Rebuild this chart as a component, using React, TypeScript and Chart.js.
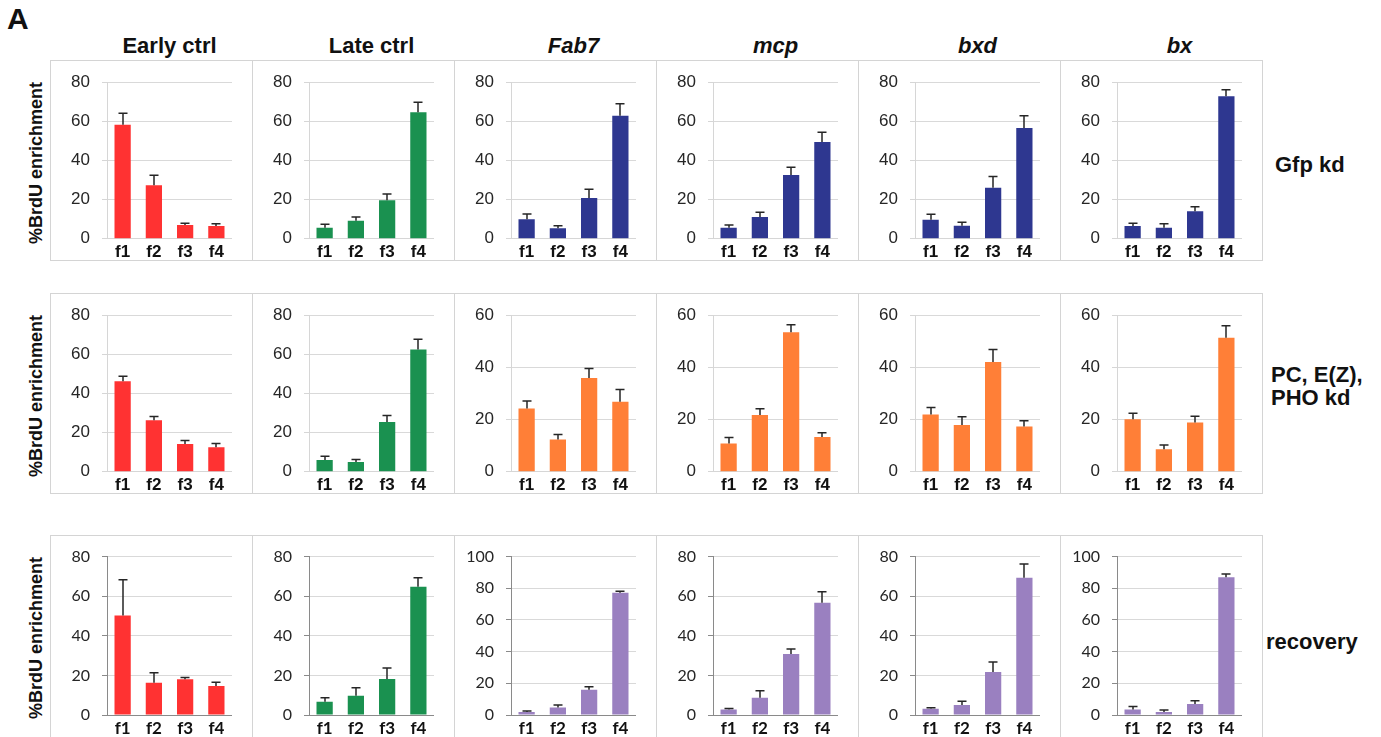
import React, { useEffect, useRef } from "react";
import { Chart, registerables } from "chart.js";

Chart.register(...registerables);

// ---- labels ----
const categories = ["f1", "f2", "f3", "f4"];
const conditions = ["Early ctrl", "Late ctrl", "Fab7", "mcp", "bxd", "bx"];
const italicTitles = [false, false, true, true, true, true];
const treatmentLabels = [["Gfp kd"], ["PC, E(Z),", "PHO kd"], ["recovery"]];
const yTitle = "%BrdU enrichment";
const panelLetter = "A";

// ---- Gfp kd: mean %BrdU enrichment and error (upper bar) ----
const gfpEarly = [58.2, 27.3, 7.0, 6.5];
const gfpEarlyErr = [5.9, 5.2, 1.0, 1.2];
const gfpLate = [5.7, 9.2, 19.7, 64.6];
const gfpLateErr = [1.7, 2.0, 3.2, 5.2];
const gfpFab7 = [10.0, 5.4, 20.9, 62.8];
const gfpFab7Err = [2.7, 1.3, 4.4, 6.2];
const gfpMcp = [5.7, 11.2, 32.6, 49.5];
const gfpMcpErr = [1.3, 2.4, 3.9, 4.9];
const gfpBxd = [9.7, 6.7, 26.1, 56.6];
const gfpBxdErr = [2.9, 1.7, 5.7, 6.3];
const gfpBx = [6.5, 5.7, 14.1, 72.8];
const gfpBxErr = [1.4, 2.0, 2.3, 3.4];
const gfpAxisMax = [80, 80, 80, 80, 80, 80];

// ---- PC, E(Z), PHO kd ----
const pcEarly = [46.3, 26.3, 14.2, 12.5];
const pcEarlyErr = [2.5, 2.0, 1.8, 2.0];
const pcLate = [6.0, 5.0, 25.5, 62.5];
const pcLateErr = [2.0, 1.3, 3.2, 5.2];
const pcFab7 = [24.3, 12.4, 35.9, 26.8];
const pcFab7Err = [2.8, 1.9, 3.7, 4.7];
const pcMcp = [10.8, 21.8, 53.5, 13.3];
const pcMcpErr = [2.3, 2.4, 2.8, 1.7];
const pcBxd = [22.0, 17.9, 42.1, 17.4];
const pcBxdErr = [2.6, 3.2, 4.8, 2.2];
const pcBx = [20.1, 8.6, 18.9, 51.4];
const pcBxErr = [2.3, 1.7, 2.4, 4.6];
const pcAxisMax = [80, 80, 60, 60, 60, 60];

// ---- recovery ----
const recEarly = [50.3, 16.3, 18.0, 14.7];
const recEarlyErr = [18.0, 5.0, 1.0, 1.8];
const recLate = [6.7, 9.7, 18.2, 64.8];
const recLateErr = [2.0, 4.1, 5.5, 4.5];
const recFab7 = [1.9, 4.8, 16.0, 77.1];
const recFab7Err = [0.6, 1.5, 1.9, 1.0];
const recMcp = [2.8, 8.7, 30.8, 56.7];
const recMcpErr = [0.5, 3.6, 2.5, 5.5];
const recBxd = [3.2, 5.0, 21.7, 69.3];
const recBxdErr = [0.5, 2.0, 5.1, 6.9];
const recBx = [3.5, 1.9, 6.9, 86.9];
const recBxErr = [1.9, 1.2, 2.1, 2.1];
const recAxisMax = [80, 80, 100, 80, 80, 100];

// ---- colours ----
const earlyColor = "#ff3232";
const lateColor = "#1a9150";
const rowColors = ["#2e3790", "#ff7f37", "#9a80c0"];

const ARIAL = "'Liberation Sans', Arial, Helvetica, sans-serif";
const CALIBRI_LIKE = "Lato, 'Open Sans', sans-serif";

type RowDef = {
  values: number[][];
  errors: number[][];
  max: number[];
  color: string;
  family: string;
  axisColor: string;
  top: number;
  height: number;
};

const rows: RowDef[] = [
  {
    values: [gfpEarly, gfpLate, gfpFab7, gfpMcp, gfpBxd, gfpBx],
    errors: [gfpEarlyErr, gfpLateErr, gfpFab7Err, gfpMcpErr, gfpBxdErr, gfpBxErr],
    max: gfpAxisMax,
    color: rowColors[0],
    family: ARIAL,
    axisColor: "#d6d6d6",
    top: 60,
    height: 201,
  },
  {
    values: [pcEarly, pcLate, pcFab7, pcMcp, pcBxd, pcBx],
    errors: [pcEarlyErr, pcLateErr, pcFab7Err, pcMcpErr, pcBxdErr, pcBxErr],
    max: pcAxisMax,
    color: rowColors[1],
    family: ARIAL,
    axisColor: "#d6d6d6",
    top: 293,
    height: 201,
  },
  {
    values: [recEarly, recLate, recFab7, recMcp, recBxd, recBx],
    errors: [recEarlyErr, recLateErr, recFab7Err, recMcpErr, recBxdErr, recBxErr],
    max: recAxisMax,
    color: rowColors[2],
    family: CALIBRI_LIKE,
    axisColor: "#8a8a8a",
    top: 535,
    height: 210,
  },
];

const colLefts = [0, 1, 2, 3, 4, 5].map((i) => Math.round(50 + i * 201.9));
const BOX_W = 203;
const PLOT_LEFT = 57;
const PLOT_RIGHT_PAD = 21;
const PLOT_TOP = 20;
const PLOT_BOTTOM = 180;

// Draws the upper error bar (line + cap) on every bar from the dataset's `errors` field
const errorBarPlugin = {
  id: "errorBars",
  afterDatasetsDraw(chart: any) {
    const { ctx } = chart;
    const yScale = chart.scales.y;
    const ds = chart.data.datasets[0];
    const meta = chart.getDatasetMeta(0);
    const errs: number[] = ds.errors || [];
    ctx.save();
    ctx.strokeStyle = "#262626";
    ctx.lineWidth = 1.5;
    meta.data.forEach((bar: any, i: number) => {
      const v = ds.data[i] as number;
      const yTop = yScale.getPixelForValue(v + (errs[i] || 0));
      const x = Math.round(bar.x);
      ctx.beginPath();
      ctx.moveTo(x, bar.y);
      ctx.lineTo(x, yTop);
      ctx.moveTo(x - 4.5, yTop);
      ctx.lineTo(x + 4.5, yTop);
      ctx.stroke();
    });
    ctx.restore();
  },
};

type PanelProps = {
  left: number;
  top: number;
  width: number;
  height: number;
  values: number[];
  errors: number[];
  max: number;
  color: string;
  family: string;
  axisColor: string;
};

function Panel({ left, top, width, height, values, errors, max, color, family, axisColor }: PanelProps) {
  const ref = useRef<HTMLCanvasElement>(null);

  useEffect(() => {
    const chart = new Chart(ref.current as HTMLCanvasElement, {
      type: "bar",
      data: {
        labels: categories,
        datasets: [
          {
            data: values,
            errors,
            backgroundColor: color,
            borderWidth: 0,
            barPercentage: 0.52,
            categoryPercentage: 1,
          } as any,
        ],
      },
      options: {
        responsive: false,
        animation: false,
        devicePixelRatio: 1,
        layout: { padding: { top: PLOT_TOP, right: PLOT_RIGHT_PAD, left: 0, bottom: 0 } },
        plugins: { legend: { display: false }, tooltip: { enabled: false } },
        scales: {
          x: {
            grid: { display: false, drawTicks: false },
            border: { display: false },
            ticks: {
              font: { family, size: 17, weight: "bold" },
              color: "#111",
              padding: 3,
              maxRotation: 0,
              autoSkip: false,
            },
            afterFit: (s: any) => {
              s.height = height - PLOT_BOTTOM;
            },
          },
          y: {
            min: 0,
            max,
            ticks: {
              stepSize: 20,
              font: { family, size: family === ARIAL ? 17 : 16 },
              color: "#262626",
              padding: 12,
            },
            grid: {
              color: (c: any) => (c.tick && c.tick.value === 0 ? axisColor : "#d9d9d9"),
              lineWidth: 1,
              tickLength: 5,
              tickColor: axisColor,
            },
            border: { color: axisColor, width: 1 },
            afterFit: (s: any) => {
              s.width = PLOT_LEFT;
            },
          },
        },
      } as any,
      plugins: [errorBarPlugin],
    });
    return () => chart.destroy();
  }, [values, errors, max, color, family, axisColor, height]);

  return (
    <div
      style={{
        position: "absolute",
        left,
        top,
        width,
        height,
        boxSizing: "border-box",
        border: "1px solid #d4d4d4",
      }}
    >
      <canvas
        ref={ref}
        width={width}
        height={height}
        style={{ position: "absolute", left: -1, top: -1, width, height }}
      />
    </div>
  );
}

export default function App() {
  return (
    <div
      style={{
        position: "absolute",
        left: 0,
        top: 0,
        width: 1381,
        height: 737,
        overflow: "hidden",
        background: "#fff",
        fontFamily: ARIAL,
        color: "#111",
      }}
    >
      <div
        style={{
          position: "absolute",
          left: 7,
          top: 2,
          fontSize: 30,
          lineHeight: "34px",
          fontWeight: "bold",
        }}
      >
        {panelLetter}
      </div>

      {conditions.map((name, i) => (
        <div
          key={name}
          style={{
            position: "absolute",
            left: colLefts[i] + PLOT_LEFT + (BOX_W - PLOT_LEFT - PLOT_RIGHT_PAD) / 2 - 100,
            width: 200,
            top: 34,
            textAlign: "center",
            fontSize: 22,
            lineHeight: "24px",
            fontWeight: "bold",
            fontStyle: italicTitles[i] ? "italic" : "normal",
          }}
        >
          {name}
        </div>
      ))}

      {rows.map((row, r) =>
        conditions.map((name, c) => (
          <Panel
            key={`${r}-${name}`}
            left={colLefts[c]}
            top={row.top}
            width={BOX_W}
            height={row.height}
            values={row.values[c]}
            errors={row.errors[c]}
            max={row.max[c]}
            color={c === 0 ? earlyColor : c === 1 ? lateColor : row.color}
            family={row.family}
            axisColor={row.axisColor}
          />
        ))
      )}

      {rows.map((row, r) => (
        <div
          key={`yt-${r}`}
          style={{
            position: "absolute",
            left: 36,
            top: row.top + 103,
            transform: "translate(-50%, -50%) rotate(-90deg)",
            whiteSpace: "nowrap",
            fontSize: 18,
            fontWeight: "bold",
            lineHeight: "20px",
          }}
        >
          {yTitle}
        </div>
      ))}

      {treatmentLabels.map((lines, r) => (
        <div
          key={`tl-${r}`}
          style={{
            position: "absolute",
            left: r === 2 ? 1266 : r === 1 ? 1271 : 1275,
            top: r === 0 ? 153 : r === 1 ? 363 : 630,
            fontSize: 22,
            lineHeight: "23px",
            fontWeight: "bold",
            whiteSpace: "nowrap",
          }}
        >
          {lines.map((l) => (
            <div key={l}>{l}</div>
          ))}
        </div>
      ))}
    </div>
  );
}
